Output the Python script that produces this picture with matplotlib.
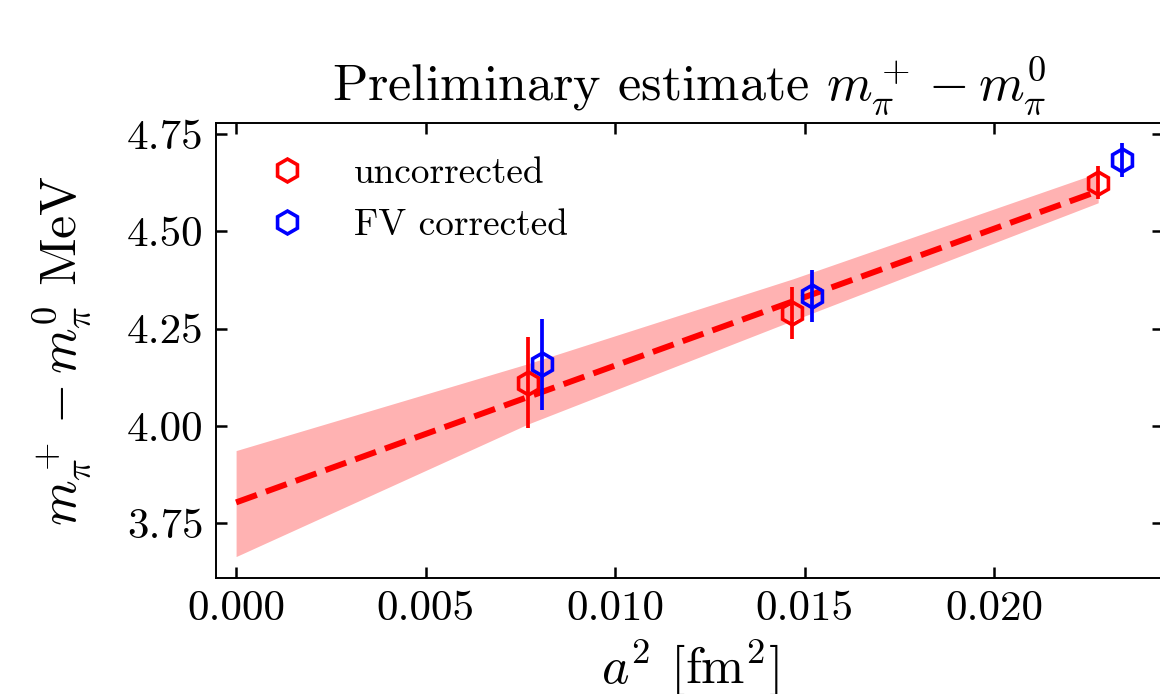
import matplotlib
matplotlib.use("Agg")
import matplotlib.pyplot as plt
from matplotlib.lines import Line2D

plt.rcParams['font.family'] = 'serif'
plt.rcParams['font.serif'] = ['cmr10']
plt.rcParams['mathtext.fontset'] = 'cm'
plt.rcParams['axes.formatter.use_mathtext'] = True

# data
unc_x = [0.00771, 0.01468, 0.02275]
unc_y = [4.111, 4.291, 4.625]
unc_err = [0.117, 0.067, 0.043]

fv_x = [0.00807, 0.01519, 0.02337]
fv_y = [4.158, 4.333, 4.682]
fv_err = [0.116, 0.067, 0.044]

fit_x = [0.0, 0.02275]
fit_y = [3.804, 4.603]

band_x = [0.0, 0.0077, 0.0147, 0.02275]
band_lo = [3.665, 4.005, 4.271, 4.573]
band_hi = [3.937, 4.160, 4.378, 4.650]

xticks = [0.000, 0.005, 0.010, 0.015, 0.020]
yticks = [3.75, 4.00, 4.25, 4.50, 4.75]

fig = plt.figure(figsize=(11.6, 6.94), dpi=100)
ax = fig.add_axes([216/1160, 1-578/694, (1163-216)/1160, (578-123.3)/694])

ax.fill_between(band_x, band_lo, band_hi, color='red', alpha=0.3, lw=0, zorder=1)
ax.plot(fit_x, fit_y, color='red', ls='--', lw=4.3, zorder=2)

ms, mew = 16.5, 2.6
ax.errorbar(unc_x, unc_y, yerr=unc_err, fmt='h', color='red', mfc='none',
            mec='red', ms=ms, mew=mew, elinewidth=2.7, capsize=0, zorder=3)
ax.errorbar(fv_x, fv_y, yerr=fv_err, fmt='h', color='blue', mfc='none',
            mec='blue', ms=ms, mew=mew, elinewidth=2.7, capsize=0, zorder=4)

handles = [Line2D([], [], marker='h', ls='none', mfc='none', mec='red', ms=ms, mew=mew),
           Line2D([], [], marker='h', ls='none', mfc='none', mec='blue', ms=ms, mew=mew)]
ax.legend(handles, ['uncorrected', 'FV corrected'], loc='upper left',
          frameon=False, fontsize=26.8)

ax.set_xlim(-0.00053, 0.02446)
ax.set_ylim(3.61, 4.777)
ax.set_xticks(xticks)
ax.set_yticks(yticks)
ax.set_xticklabels(['%.3f' % v for v in xticks])
ax.set_yticklabels(['%.2f' % v for v in yticks])
ax.tick_params(direction='in', top=True, right=True, length=8, width=1.8,
               labelsize=31, pad=9)
for s in ax.spines.values():
    s.set_linewidth(1.4)

ax.set_title(r'Preliminary estimate $m_\pi^+ - m_\pi^0$', fontsize=37.5, pad=15)
ax.set_ylabel(r'$m_\pi^+ - m_\pi^0$ MeV', fontsize=37.5, labelpad=23)
ax.set_xlabel(r'$a^2$ [fm$^2$]', fontsize=37.5, labelpad=7)

fig.savefig('out.png', dpi=100)
